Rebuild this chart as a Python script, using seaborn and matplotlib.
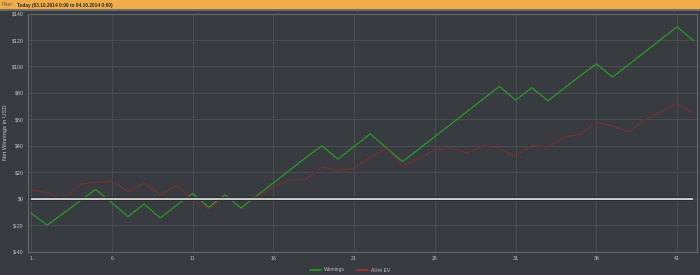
import numpy as np
import pandas as pd
import matplotlib
matplotlib.use("Agg")
import matplotlib.pyplot as plt
import seaborn as sns
from matplotlib.lines import Line2D
from matplotlib.patches import Rectangle

hands = list(range(1, 43))
winnings = [-11, -20, -11, -2, 7, -3, -13.5, -4, -14.5, -5,
            4, -6.5, 3, -7, 2.5, 12, 21.5, 31, 40, 30,
            39.5, 49, 38.5, 28, 37.5, 47, 56.5, 66, 75.5, 85,
            74.5, 84, 74, 83.5, 93, 102, 92, 101.5, 111, 120.5,
            130, 119.5]
allin_ev = [6.5, 4.5, -0.5, 10.75, 12.5, 13.25, 5.5, 11.75, 3, 10.25,
            -1, -7.75, 1, -0.25, 1.5, 9, 14.5, 14.5, 24, 20.75,
            22.75, 31.5, 38, 24.5, 30.25, 37, 38.5, 34.75, 40, 38.25,
            32, 40.5, 39, 46.5, 48.75, 58, 55, 50.75, 59.75, 65.75,
            72, 64.75]
series_names = ["Winnings", "All-in EV"]
x_ticks = [1, 6, 11, 16, 21, 26, 31, 36, 41]
y_ticks = [-40, -20, 0, 20, 40, 60, 80, 100, 120, 140]
y_tick_labels = ["$" + str(v) for v in y_ticks]
filter_label = "Filter:"
filter_text = "Today (03.10.2014 0:00 to 04.10.2014 0:00)"
y_label = "Net Winnings in USD"

df = pd.DataFrame({
    "hand": hands * 2,
    "value": winnings + allin_ev,
    "series": [series_names[0]] * len(hands) + [series_names[1]] * len(hands),
})

sns.set_style("dark")
plt.rcParams["font.family"] = ["Liberation Sans", "DejaVu Sans"]

BG = "#383b3f"
GRID = "#4a4d51"
TXT = "#c4c6c8"
GREEN = "#2a9a2a"
RED_LINE = "#6e3333"
RED_LEG = "#b83030"

W, H = 700, 275
fig = plt.figure(figsize=(7, 2.75), dpi=100, facecolor=BG)

# top filter bar
fig.patches.append(Rectangle((0, 1 - 9.5 / H), 1, 9.5 / H, transform=fig.transFigure,
                             facecolor="#f2ac48", edgecolor="none", zorder=0))
fig.patches.append(Rectangle((0, 1 - 10.5 / H), 1, 1.0 / H, transform=fig.transFigure,
                             facecolor="#6a6c6e", edgecolor="none", zorder=0))
fig.text(2 / W, 1 - 5 / H, filter_label, color="#6d5a3a", fontsize=3.4, va="center", ha="left")
fig.text(17 / W, 1 - 5 / H, filter_text, color="#2a2a2a", fontsize=3.4, va="center", ha="left",
         fontweight="bold")

left, right = 28 / W, 696.7 / W
top, bottom = 13.6 / H, 251.6 / H
ax = fig.add_axes([left, 1 - bottom, right - left, bottom - top])
ax.set_facecolor(BG)

sns.lineplot(data=df, x="hand", y="value", hue="series",
             palette={series_names[0]: GREEN, series_names[1]: RED_LINE},
             linewidth=0.9, ax=ax, legend=False, zorder=3)
ax.hlines(0, hands[0], hands[-1], color="#2a2c2e", linewidth=2.8, zorder=4)
ax.hlines(0, hands[0], hands[-1], color="#d0d0d0", linewidth=1.4, zorder=5)

ax.set_xlim(0.81, 42.21)
ax.set_ylim(-40, 140)
ax.set_xticks(x_ticks)
ax.set_xticklabels([str(t) for t in x_ticks])
ax.set_yticks(y_ticks)
ax.set_yticklabels(y_tick_labels)
ax.grid(True, color=GRID, linewidth=0.7)
ax.tick_params(axis="both", length=0, labelsize=3.8, colors=TXT, pad=3)
ax.set_xlabel("")
ax.set_ylabel(y_label, color=TXT, fontsize=4.2, labelpad=3)
for s in ax.spines.values():
    s.set_visible(True)
    s.set_color("#65686b")
    s.set_linewidth(0.8)

handles = [Line2D([0], [0], color=GREEN, lw=1.2), Line2D([0], [0], color=RED_LEG, lw=1.2)]
leg = fig.legend(handles, series_names, loc="center", bbox_to_anchor=(350 / W, 1 - 270 / H),
                 ncol=2, frameon=False, fontsize=3.6, handlelength=2.2, columnspacing=2.5,
                 handletextpad=0.6)
for t in leg.get_texts():
    t.set_color(TXT)

fig.savefig("out.png", dpi=100, facecolor=BG)
